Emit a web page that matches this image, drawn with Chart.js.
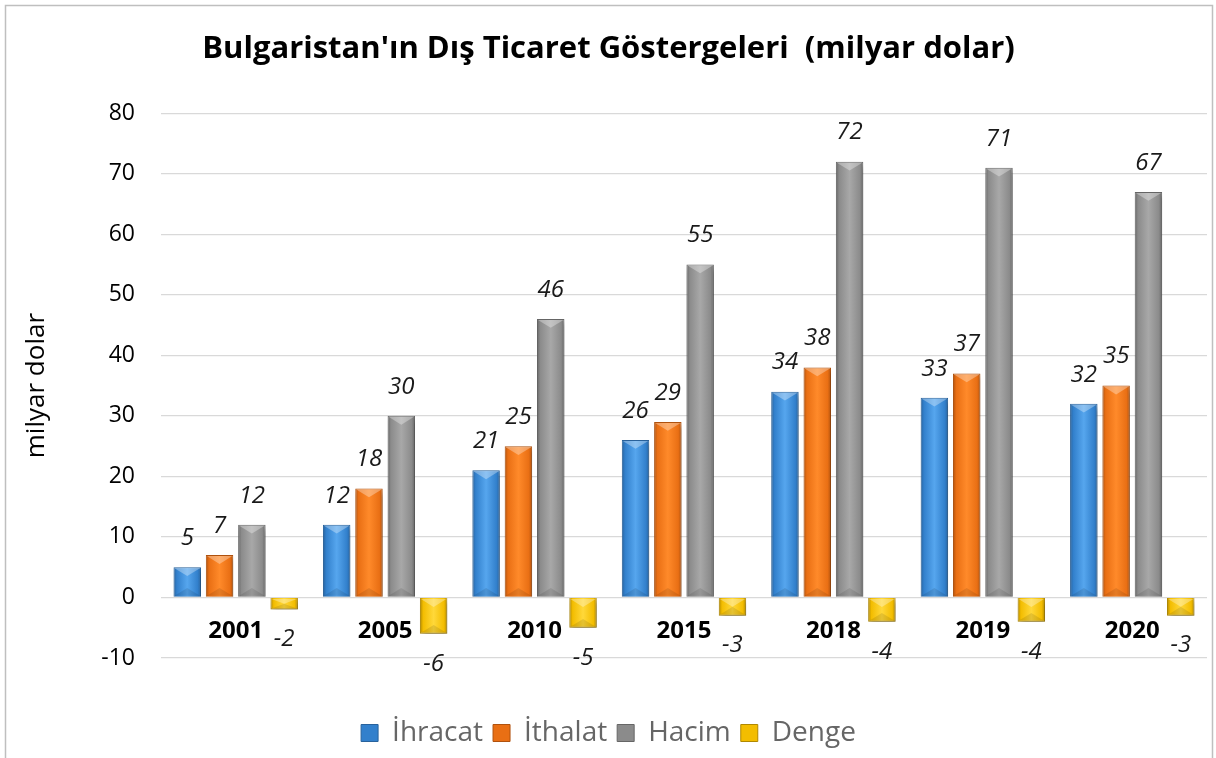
<!DOCTYPE html>
<html>
<head>
<meta charset="utf-8">
<script src="https://cdn.jsdelivr.net/npm/chart.js@4/dist/chart.umd.min.js"></script>
<style>
html,body{margin:0;padding:0;background:#fff;}
#wrap{position:relative;width:1216px;height:758px;}
</style>
</head>
<body>
<div id="wrap"><canvas id="c"></canvas></div>
<script>
// ---- data ----
const categories = ['2001', '2005', '2010', '2015', '2018', '2019', '2020'];
const ihracat = [5, 12, 21, 26, 34, 33, 32];
const ithalat = [7, 18, 25, 29, 38, 37, 35];
const hacim   = [12, 30, 46, 55, 72, 71, 67];
const denge   = [-2, -6, -5, -3, -4, -4, -3];
const seriesNames = ['İhracat', 'İthalat', 'Hacim', 'Denge'];
const yMin = -10, yMax = 80, yStep = 10;
const titleText = "Bulgaristan'ın Dış Ticaret Göstergeleri  (milyar dolar)";
const yTitle = 'milyar dolar';

// ---- styles ----
const FONT = "'Open Sans', Lato, sans-serif";
const palette = [
  {edge:'#28629c', base:'#3280cc', hi:'#56a6ee'},
  {edge:'#b0520e', base:'#e96f14', hi:'#ff8a2a'},
  {edge:'#666666', base:'#8b8b8b', hi:'#a8a8a8'},
  {edge:'#b08800', base:'#f3bd00', hi:'#ffd83a'}
];
const CAT_PCT = 0.865, BAR_PCT = 0.85;

function barFill(ctx, i) {
  const p = palette[i];
  const chart = ctx.chart;
  const xs = chart.scales && chart.scales.x;
  if (ctx.type !== 'data' || !xs || !isFinite(xs.width) || xs.width <= 0) return p.base;
  const n = chart.data.labels.length;
  const catW = xs.width / n;
  const thick = catW * CAT_PCT;
  const chunk = thick / 4;
  const cx = xs.getPixelForValue(ctx.dataIndex) - thick / 2 + chunk * i + chunk / 2;
  const w = chunk * BAR_PCT;
  const g = chart.ctx.createLinearGradient(cx - w / 2, 0, cx + w / 2, 0);
  g.addColorStop(0, p.edge);
  g.addColorStop(0.12, p.base);
  g.addColorStop(0.5, p.hi);
  g.addColorStop(0.88, p.base);
  g.addColorStop(1, p.edge);
  return g;
}

const frame = {
  id: 'frame',
  beforeDraw(chart) {
    const c = chart.ctx;
    c.save();
    c.strokeStyle = '#bfbfbf';
    c.lineWidth = 1.5;
    c.strokeRect(5.5, 5.5, 1207, 800);
    c.restore();
  }
};

const shadow = {
  id: 'shadow',
  beforeDatasetDraw(chart) {
    const c = chart.ctx;
    c.save();
    c.shadowColor = 'rgba(0,0,0,0.28)';
    c.shadowBlur = 5;
    c.shadowOffsetX = 2;
    c.shadowOffsetY = 4;
  },
  afterDatasetDraw(chart) {
    chart.ctx.restore();
  }
};

const bevelAndLabels = {
  id: 'bevelAndLabels',
  afterDatasetsDraw(chart) {
    const c = chart.ctx;
    c.save();
    chart.data.datasets.forEach((ds, di) => {
      const meta = chart.getDatasetMeta(di);
      meta.data.forEach((bar, i) => {
        const v = ds.data[i];
        const w = bar.width;
        const l = bar.x - w / 2, r = bar.x + w / 2;
        const top = Math.min(bar.y, bar.base), bot = Math.max(bar.y, bar.base);
        const h = bot - top;
        const tri = Math.min(h / 2, w * 0.32);
        c.fillStyle = 'rgba(255,255,255,0.32)';
        c.beginPath();
        c.moveTo(l + 1, top + 1); c.lineTo(r - 1, top + 1); c.lineTo(bar.x, top + tri); c.closePath(); c.fill();
        c.fillStyle = 'rgba(0,0,0,0.10)';
        c.beginPath();
        c.moveTo(l + 1, bot - 1); c.lineTo(r - 1, bot - 1); c.lineTo(bar.x, bot - tri); c.closePath(); c.fill();
        c.fillStyle = '#1a1a1a';
        c.font = 'italic 24px ' + FONT;
        c.textAlign = 'center';
        c.textBaseline = 'middle';
        const y = v >= 0 ? bar.y - 29 : bar.y + 30;
        c.fillText(String(v), bar.x, y);
      });
    });
    c.restore();
  }
};

const seriesData = [ihracat, ithalat, hacim, denge];

new Chart(document.getElementById('c'), {
  type: 'bar',
  data: {
    labels: categories,
    datasets: seriesData.map((d, i) => ({
      label: seriesNames[i],
      data: d,
      backgroundColor: (ctx) => barFill(ctx, i),
      borderColor: palette[i].edge,
      borderWidth: 1,
      categoryPercentage: CAT_PCT,
      barPercentage: BAR_PCT
    }))
  },
  options: {
    responsive: true,
    maintainAspectRatio: false,
    animation: false,
    events: [],
    layout: { padding: { left: 10, right: 9, top: 0, bottom: 1 } },
    plugins: {
      title: {
        display: true,
        text: titleText,
        color: '#000',
        font: { family: FONT, size: 31, weight: 'bold' },
        padding: { top: 31, bottom: 45 }
      },
      legend: {
        position: 'bottom',
        title: { display: true, text: ' ', font: { size: 10 }, padding: { top: 39, bottom: 0 } },
        labels: {
          color: '#000',
          font: { family: FONT, size: 28 },
          boxWidth: 17,
          boxHeight: 17,
          padding: 10,
          generateLabels() {
            return seriesNames.map((n, i) => ({
              text: n,
              fillStyle: palette[i].base,
              strokeStyle: palette[i].edge,
              lineWidth: 1,
              datasetIndex: i
            }));
          }
        }
      },
      tooltip: { enabled: false }
    },
    scales: {
      x: {
        position: { y: 0 },
        grid: { display: false, drawTicks: false },
        border: { display: false },
        ticks: {
          color: '#000',
          font: { family: FONT, size: 24, weight: 'bold' },
          padding: 19
        }
      },
      y: {
        min: yMin,
        max: yMax,
        afterFit(scale) { scale.width = 151; },
        grid: { color: '#d9d9d9', lineWidth: 1.3, drawTicks: false },
        border: { display: false },
        ticks: {
          stepSize: yStep,
          color: '#000',
          font: { family: FONT, size: 23 },
          padding: 26
        },
        title: {
          display: true,
          text: yTitle,
          color: '#000',
          font: { family: FONT, size: 26 },
          padding: { top: 11, bottom: 0 }
        }
      }
    }
  },
  plugins: [frame, shadow, bevelAndLabels]
});
</script>
</body>
</html>
